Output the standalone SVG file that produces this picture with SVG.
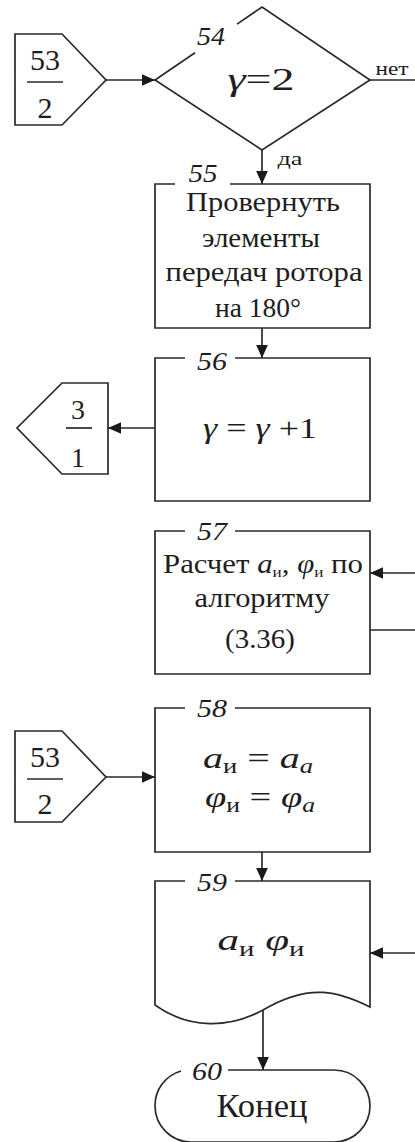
<svg xmlns="http://www.w3.org/2000/svg" width="415" height="1142" viewBox="0 0 415 1142" font-family="'Liberation Serif', 'Times New Roman', serif">
<defs>
<style>
.s{fill:none;stroke:#2a2a2a;stroke-width:1.7}
text{fill:#1e1e1e;text-anchor:middle;font-family:'Liberation Serif','Times New Roman',serif}
.n{font-style:italic;font-size:25px}
.i{font-style:italic}
.b{font-size:28px}
</style>
<marker id="ar" viewBox="0 0 10 10" refX="10" refY="5" markerWidth="13" markerHeight="13" markerUnits="userSpaceOnUse" orient="auto">
<path d="M0,0.5 L10,5 L0,9.5 Z" fill="#1a1a1a"/>
</marker>
</defs>
<rect width="415" height="1142" fill="#fff"/>
<g id="connectors" class="s">
<line x1="106" y1="80" x2="155" y2="80" marker-end="url(#ar)"/>
<line x1="370" y1="80" x2="415" y2="80"/>
<line x1="262" y1="150" x2="262" y2="184" marker-end="url(#ar)"/>
<line x1="262" y1="328" x2="262" y2="358" marker-end="url(#ar)"/>
<line x1="155" y1="428" x2="108" y2="428" marker-end="url(#ar)"/>
<line x1="415" y1="573" x2="370" y2="573" marker-end="url(#ar)"/>
<line x1="370" y1="630" x2="415" y2="630"/>
<line x1="106" y1="777" x2="155" y2="777" marker-end="url(#ar)"/>
<line x1="262" y1="852" x2="262" y2="881" marker-end="url(#ar)"/>
<line x1="415" y1="953" x2="370" y2="953" marker-end="url(#ar)"/>
<line x1="263" y1="1010" x2="263" y2="1070" marker-end="url(#ar)"/>
</g>
<g id="conn-53-2-top">
<path class="s" d="M15,34 L62,34 L106,80 L62,125 L15,125 Z"/>
<text x="45" y="70" font-size="30">53</text>
<line class="s" x1="27" y1="82" x2="63" y2="82"/>
<text x="45" y="118" font-size="30">2</text>
</g>
<g id="n54">
<path class="s" d="M195,52.7 L155,80 L262,150 L370,80 L262,7 L237,24.1"/>
<text class="n" x="211" y="45" textLength="28" lengthAdjust="spacingAndGlyphs">54</text>
<text x="261" y="90" font-size="31" textLength="67" lengthAdjust="spacingAndGlyphs"><tspan class="i">γ</tspan>=2</text>
<text x="392" y="75" font-size="19" textLength="33" lengthAdjust="spacingAndGlyphs">нет</text>
<text x="290" y="165" font-size="18" textLength="25" lengthAdjust="spacingAndGlyphs">да</text>
</g>
<g id="n55">
<path class="s" d="M230,184 L370,184 L370,328 L155,328 L155,184 L175,184"/>
<text class="n" x="203" y="182" font-size="22" textLength="29" lengthAdjust="spacingAndGlyphs">55</text>
<text class="b" x="263" y="211" textLength="154" lengthAdjust="spacingAndGlyphs">Провернуть</text>
<text class="b" x="261" y="247" textLength="118" lengthAdjust="spacingAndGlyphs">элементы</text>
<text class="b" x="264" y="281" textLength="197" lengthAdjust="spacingAndGlyphs">передач ротора</text>
<text class="b" x="258" y="317" textLength="86" lengthAdjust="spacingAndGlyphs">на 180°</text>
</g>
<g id="n56">
<path class="s" d="M235,358 L370,358 L370,501 L155,501 L155,358 L185,358"/>
<text class="n" x="212" y="370" textLength="30" lengthAdjust="spacingAndGlyphs">56</text>
<text x="260" y="438" font-size="29" textLength="114" lengthAdjust="spacingAndGlyphs"><tspan class="i">γ</tspan> = <tspan class="i">γ</tspan> +1</text>
</g>
<g id="conn-3-1">
<path class="s" d="M108,383 L62,383 L17,428 L62,474 L108,474 Z"/>
<text x="78" y="419" font-size="28">3</text>
<line class="s" x1="66" y1="428" x2="92" y2="428"/>
<text x="78" y="467" font-size="28">1</text>
</g>
<g id="n57">
<path class="s" d="M235,531 L370,531 L370,674 L155,674 L155,531 L185,531"/>
<text class="n" x="212" y="540" textLength="30" lengthAdjust="spacingAndGlyphs">57</text>
<text x="263" y="573" font-size="27" textLength="200" lengthAdjust="spacingAndGlyphs">Расчет <tspan class="i">a</tspan><tspan font-size="15" dy="4">и</tspan><tspan dy="-4">, </tspan><tspan class="i">φ</tspan><tspan font-size="15" dy="4">и</tspan><tspan dy="-4"> по</tspan></text>
<text class="b" x="262" y="607" textLength="135" lengthAdjust="spacingAndGlyphs">алгоритму</text>
<text class="b" x="260" y="648" textLength="70" lengthAdjust="spacingAndGlyphs">(3.36)</text>
</g>
<g id="conn-53-2-bottom">
<path class="s" d="M15,731 L62,731 L106,777 L62,822 L15,822 Z"/>
<text x="45" y="767" font-size="30">53</text>
<line class="s" x1="27" y1="779" x2="63" y2="779"/>
<text x="45" y="814" font-size="30">2</text>
</g>
<g id="n58">
<path class="s" d="M235,708 L370,708 L370,852 L155,852 L155,708 L185,708"/>
<text class="n" x="212" y="717" textLength="30" lengthAdjust="spacingAndGlyphs">58</text>
<text font-size="30" x="258" y="768" textLength="110" lengthAdjust="spacingAndGlyphs"><tspan class="i">a</tspan><tspan font-size="20" dy="5">и</tspan><tspan dy="-5"> = </tspan><tspan class="i">a</tspan><tspan class="i" font-size="20" dy="5">a</tspan></text>
<text font-size="30" x="260" y="807" textLength="110" lengthAdjust="spacingAndGlyphs"><tspan class="i">φ</tspan><tspan font-size="20" dy="5">и</tspan><tspan dy="-5"> = </tspan><tspan class="i">φ</tspan><tspan class="i" font-size="20" dy="5">a</tspan></text>
</g>
<g id="n59">
<path class="s" d="M235,881 L370,881 L370,1007 C340,992 310,982 263,1010 C230,1028 190,1030 155,1005 L155,881 L185,881"/>
<text class="n" x="212" y="891" textLength="30" lengthAdjust="spacingAndGlyphs">59</text>
<text font-size="30" x="261" y="950" textLength="87" lengthAdjust="spacingAndGlyphs"><tspan class="i">a</tspan><tspan font-size="20" dy="6">и</tspan><tspan dy="-6">  </tspan><tspan class="i">φ</tspan><tspan font-size="20" dy="6">и</tspan></text>
</g>
<g id="n60">
<path class="s" d="M228,1070 L334,1070 A36,36 0 0 1 334,1142 L191,1142 A36,36 0 0 1 155,1106 A36,36 0 0 1 181,1071"/>
<text class="n" x="207" y="1080" textLength="30" lengthAdjust="spacingAndGlyphs">60</text>
<text x="262" y="1117" font-size="34" textLength="91" lengthAdjust="spacingAndGlyphs">Конец</text>
</g>
</svg>
